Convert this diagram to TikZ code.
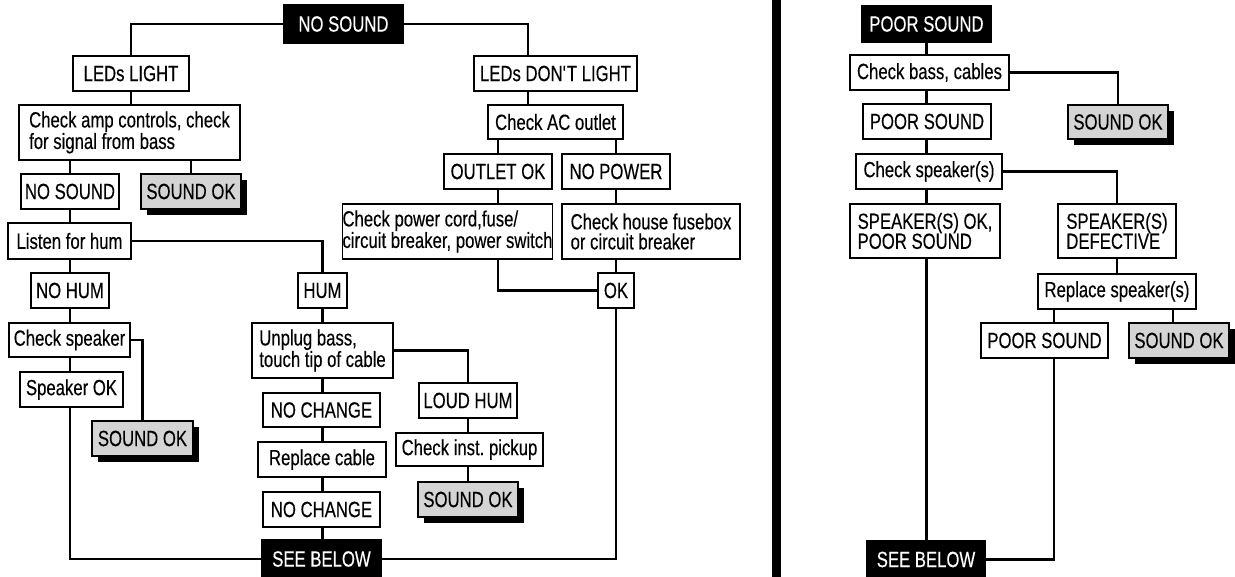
\documentclass[tikz,border=0pt]{standalone}
\usepackage{fontspec}
\setmainfont{Liberation Sans}[FakeStretch=0.76,FakeBold=0.3]
\usetikzlibrary{shadows,calc}
\newcommand{\mkbox}[7][]{\node[box,#1,minimum width={#5pt-#3pt},minimum height={#6pt-#4pt}] (#2) at ({(#3+#5)/2},{(#4+#6)/2}) {#7};}
\frenchspacing
\begin{document}
\begin{tikzpicture}[x=1pt,y=-1pt,
  box/.style={draw,line width=1.3pt,fill=white,inner sep=0pt,outer sep=0pt,align=center,
    font=\fontsize{22}{20}\selectfont},
  dark/.style={fill=black,text=white},
  good/.style={fill=black!17,drop shadow={shadow xshift=6pt,shadow yshift=-6pt,fill=black,opacity=1}},
  lft/.style={align=left},
  conn/.style={line width=2.8pt}]
\useasboundingbox (0,0) rectangle (1235,577);
% divider
\fill (772,0) rectangle (781,577);
% ---------- left panel ----------
\mkbox[dark]{nosA}{284}{5}{403}{43}{NO SOUND}
\mkbox{ledsl}{73}{56}{189}{91}{LEDs LIGHT}
\mkbox[lft]{chkamp}{19}{105}{240}{160}{Check amp controls, check\\for signal from bass}
\mkbox{nosB}{21}{174}{119}{209}{NO SOUND}
\mkbox[good]{okA}{141}{174}{241}{209}{SOUND OK}
\mkbox{listen}{8}{223}{131}{259}{Listen for hum}
\mkbox{nohum}{31}{273}{109}{308}{NO HUM}
\mkbox{hum}{298}{273}{347}{308}{HUM}
\mkbox{chkspk}{9}{323}{130}{357}{Check speaker}
\mkbox{spkok}{20}{372}{123}{407}{Speaker OK}
\mkbox[good]{okB}{92}{421}{193}{456}{SOUND OK}
\mkbox[lft]{unplug}{252}{323}{393}{378}{Unplug bass,\\touch tip of cable}
\mkbox{nca}{263}{393}{380}{427}{NO CHANGE}
\mkbox{loud}{419}{383}{517}{418}{LOUD HUM}
\mkbox{repl}{258}{442}{386}{477}{Replace cable}
\mkbox{pickup}{396}{433}{543}{466}{Check inst. pickup}
\mkbox[good]{okC}{418}{482}{518}{517}{SOUND OK}
\mkbox{ncb}{263}{492}{380}{527}{NO CHANGE}
\mkbox[dark]{seeA}{262}{540}{381}{578}{SEE BELOW}
\mkbox{ledsdl}{474}{56}{637}{91}{LEDs DON\textquotesingle T LIGHT}
\mkbox{chkac}{488}{105}{623}{139}{Check AC outlet}
\mkbox{outok}{444}{154}{552}{189}{OUTLET OK}
\mkbox{nopow}{562}{154}{670}{189}{NO POWER}
\mkbox[lft]{pcord}{343}{204}{552}{259}{Check power cord,fuse/\\circuit breaker, power switch}
\mkbox[lft]{hfuse}{562}{204}{740}{259}{Check house fusebox\\or circuit breaker}
\mkbox{ok}{598}{273}{634}{308}{OK}
% ---------- right panel ----------
\mkbox[dark]{poorA}{862}{6}{991}{42}{POOR SOUND}
\mkbox{chkbass}{850}{55}{1009}{90}{Check bass, cables}
\mkbox[good]{okD}{1068}{105}{1168}{139}{SOUND OK}
\mkbox{poorB}{863}{104}{991}{139}{POOR SOUND}
\mkbox{chkspks}{856}{154}{1002}{189}{Check speaker(s)}
\mkbox[lft]{spksok}{850}{204}{1000}{258}{SPEAKER(S) OK,\\POOR SOUND}
\mkbox[lft]{spksdef}{1058}{204}{1176}{258}{SPEAKER(S)\\DEFECTIVE}
\mkbox{replspk}{1038}{274}{1196}{309}{Replace speaker(s)}
\mkbox{poorC}{981}{323}{1108}{358}{POOR SOUND}
\mkbox[good]{okE}{1129}{323}{1229}{358}{SOUND OK}
\mkbox[dark]{seeB}{867}{541}{985}{578}{SEE BELOW}
% ---------- connectors, left ----------
\draw[conn] (nosA.west) -| (ledsl.north);
\draw[conn] (nosA.east) -| ([xshift=54pt]ledsdl.north west);
\draw[conn] (ledsl.south) -- (ledsl.south |- chkamp.north);
\draw[conn] (nosB.north) -- (nosB.north |- chkamp.south);
\draw[conn] (okA.north) -- (okA.north |- chkamp.south);
\draw[conn] (nosB.south) -- (nosB.south |- listen.north);
\draw[conn] (listen.east) -| (hum.north);
\draw[conn] (nohum.north) -- (nohum.north |- listen.south);
\draw[conn] (nohum.south) -- (nohum.south |- chkspk.north);
\draw[conn] (chkspk.east) -| (okB.north);
\draw[conn] (chkspk.south -| nohum.south) -- (spkok.north -| nohum.south);
\draw[conn] (spkok.south -| nohum.south) |- (seeA.west);
\draw[conn] (hum.south) -- (hum.south |- unplug.north);
\draw[conn] (unplug.east) -| (loud.north);
\draw[conn] (unplug.south -| hum.south) -- (nca.north -| hum.south);
\draw[conn] (nca.south -| hum.south) -- (repl.north -| hum.south);
\draw[conn] (repl.south -| hum.south) -- (ncb.north -| hum.south);
\draw[conn] (ncb.south -| hum.south) -- (seeA.north -| hum.south);
\draw[conn] (loud.south) -- (loud.south |- pickup.north);
\draw[conn] (pickup.south -| loud.south) -- (okC.north -| loud.south);
\draw[conn] (ok.south) |- (seeA.east);
\draw[conn] ([xshift=54pt]ledsdl.south west) -- ([xshift=40pt]chkac.north west);
\draw[conn] (outok.north) -- (outok.north |- chkac.south);
\draw[conn] (nopow.north) -- (nopow.north |- chkac.south);
\draw[conn] (outok.south) -- (outok.south |- pcord.north);
\draw[conn] (pcord.south -| outok.south) |- (ok.west);
\draw[conn] (nopow.south) -- (nopow.south |- hfuse.north);
\draw[conn] (hfuse.south -| nopow.south) -- (ok.north);
% ---------- connectors, right ----------
\draw[conn] (poorA.south) -- (poorA.south |- chkbass.north);
\draw[conn] (chkbass.south -| poorA.south) -- (poorB.north -| poorA.south);
\draw[conn] (poorB.south -| poorA.south) -- (chkspks.north -| poorA.south);
\draw[conn] (chkspks.south -| poorA.south) -- (spksok.north -| poorA.south);
\draw[conn] (spksok.south -| poorA.south) -- (seeB.north -| poorA.south);
\draw[conn] (chkbass.east) -| (okD.north);
\draw[conn] (chkspks.east) -| (spksdef.north);
\draw[conn] (spksdef.south) -- (spksdef.south |- replspk.north);
\draw[conn] ([xshift=16pt]replspk.south west) -- ([xshift=73pt]poorC.north west);
\draw[conn] ([xshift=135pt]replspk.south west) -- ([xshift=44pt]okE.north west);
\draw[conn] ([xshift=73pt]poorC.south west) |- (seeB.east);
\end{tikzpicture}
\end{document}
